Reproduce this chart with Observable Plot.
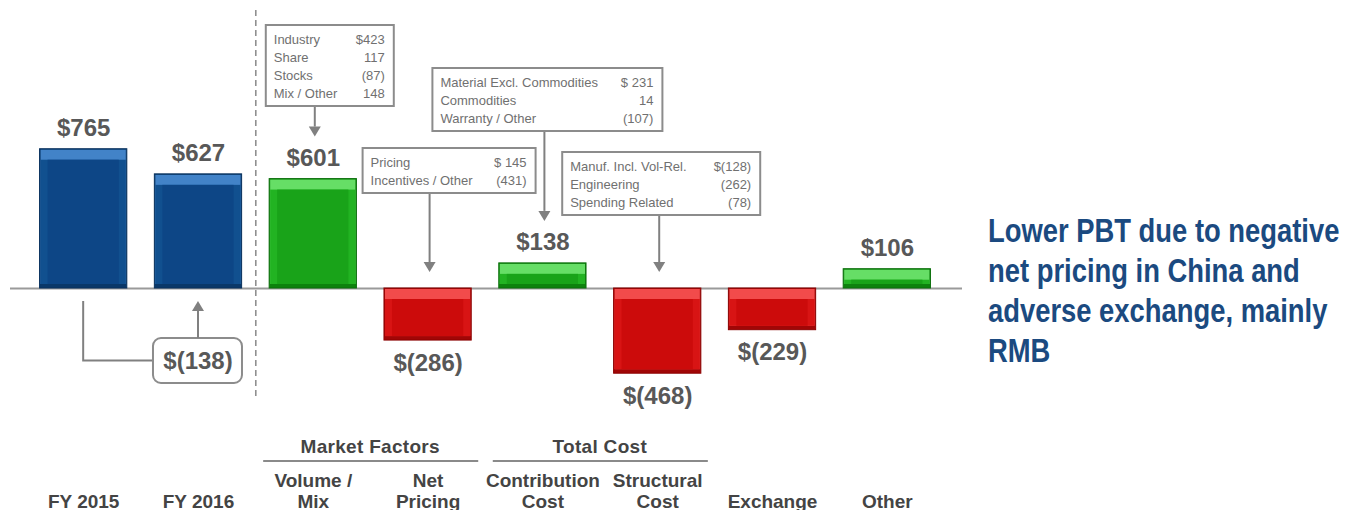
<!DOCTYPE html>
<html><head><meta charset="utf-8">
<script src="https://cdn.jsdelivr.net/npm/d3@7"></script>
<script src="https://cdn.jsdelivr.net/npm/@observablehq/plot@0.6"></script>
<style>
html,body{margin:0;padding:0;background:#fff;}
#chart{width:1346px;height:510px;overflow:hidden;position:relative;}
</style></head><body><div id="chart"></div>
<script>
// ---- data ----
const categories = ["FY 2015","FY 2016","Volume / Mix","Net Pricing","Contribution Cost","Structural Cost","Exchange","Other"];
const axisLabels = ["FY 2015","FY 2016","Volume /\nMix","Net\nPricing","Contribution\nCost","Structural\nCost","Exchange","Other"];
const values = [765, 627, 601, -286, 138, -468, -229, 106];
const valueLabels = ["$765","$627","$601","$(286)","$138","$(468)","$(229)","$106"];
const barKinds = ["total","total","change","change","change","change","change","change"];

const groupNames = ["Market Factors","Total Cost"];
const groupFirst = ["Volume / Mix","Contribution Cost"];
const groupLast = ["Net Pricing","Structural Cost"];

const calloutAnchors = ["Volume / Mix","Net Pricing","Contribution Cost","Structural Cost"];
const calloutLabels = [
  ["Industry","Share","Stocks","Mix / Other"],
  ["Pricing","Incentives / Other"],
  ["Material Excl. Commodities","Commodities","Warranty / Other"],
  ["Manuf. Incl. Vol-Rel.","Engineering","Spending Related"]
];
const calloutValues = [
  ["$423","117","(87)","148"],
  ["$ 145","(431)"],
  ["$ 231","14","(107)"],
  ["$(128)","(262)","(78)"]
];
const changeFrom = "FY 2015", changeTo = "FY 2016", changeLabel = "$(138)";
const noteLines = ["Lower PBT due to negative","net pricing in China and","adverse exchange, mainly","RMB"];

// ---- build ----
const data = categories.map((c, i) => ({cat: c, value: values[i], label: valueLabels[i], axis: axisLabels[i], kind: barKinds[i]}));

const palette = {
  blue:  {border:"#08315e", bottom:"#0a3869", top:"#4283c8", side:"#11508f", face:"#0d4686"},
  green: {border:"#0b6f0b", bottom:"#0d820d", top:"#66de66", side:"#22b322", face:"#19a319"},
  red:   {border:"#8c0202", bottom:"#a10606", top:"#f24b4b", side:"#d81414", face:"#cc0b0b"}
};
const pal = d => d.kind === "total" ? palette.blue : (d.value >= 0 ? palette.green : palette.red);

const sans = "'Liberation Sans', Arial, sans-serif";

const chart = Plot.plot({
  width: 1346, height: 510,
  marginLeft: 12, marginRight: 388, marginTop: 0, marginBottom: 80,
  x: {type: "band", domain: categories, padding: 0.24, round: false, axis: null},
  y: {domain: [-780, 1582], axis: null},
  color: {type: "identity"},
  style: {background: "#fff", fontFamily: sans},
  marks: [
    Plot.ruleX(["Volume / Mix"], {dx: -57.5, stroke: "#8f8f8f", strokeWidth: 1.6, strokeDasharray: "6,4", insetTop: 10, insetBottom: 30}),
    Plot.ruleY([0], {stroke: "#9a9a9a", strokeWidth: 2, insetLeft: -2, insetRight: -4}),
    Plot.barY(data, {x: "cat", y1: 0, y2: "value", fill: d => pal(d).bottom, stroke: d => pal(d).border, strokeWidth: 1}),
    Plot.barY(data, {x: "cat", y1: 0, y2: "value", fill: d => pal(d).top, insetTop: 1, insetLeft: 1, insetRight: 1, insetBottom: 4}),
    Plot.barY(data, {x: "cat", y1: 0, y2: "value", fill: d => pal(d).side, insetTop: 11, insetLeft: 1, insetRight: 1, insetBottom: 4}),
    Plot.barY(data, {x: "cat", y1: 0, y2: "value", fill: d => pal(d).face, insetTop: 11, insetLeft: 8, insetRight: 8, insetBottom: 4}),
    Plot.text(data.filter(d => d.value >= 0), {x: "cat", y: "value", text: "label", lineAnchor: "bottom", dy: -13, fontSize: 24, fontWeight: "bold", fill: "#585858"}),
    Plot.text(data.filter(d => d.value < 0), {x: "cat", y: "value", text: "label", lineAnchor: "bottom", dy: 30, fontSize: 24, fontWeight: "bold", fill: "#585858"}),
    Plot.text(data, {x: "cat", text: "axis", frameAnchor: "bottom", lineAnchor: "bottom", dy: 77, lineHeight: 1.08, fontSize: 19, fontWeight: "bold", fill: "#444", style: "letter-spacing:0.3px"})
  ]
});
document.getElementById("chart").appendChild(chart);

// ---- annotations positioned with Plot's scales ----
const svg = d3.select(chart);
const xs = chart.scale("x"), ys = chart.scale("y");
const bw = xs.bandwidth;
const xc = c => xs.apply(c) + bw / 2;
const yv = v => ys.apply(v);
const gray = "#808080";

function arrow(g, x, y0, y1) { // from y0 to tip y1
  const dir = y1 > y0 ? 1 : -1, head = 10;
  g.append("line").attr("x1", x).attr("x2", x).attr("y1", y0).attr("y2", y1 - dir * head)
    .attr("stroke", gray).attr("stroke-width", 2);
  g.append("path").attr("d", `M${x - 6},${y1 - dir * head}L${x + 6},${y1 - dir * head}L${x},${y1}Z`).attr("fill", gray);
}

const ann = svg.append("g").attr("text-anchor", "start");
// group labels
groupNames.forEach((name, i) => {
  const a = xc(groupFirst[i]), b = xc(groupLast[i]);
  ann.append("text").attr("x", (a + b) / 2).attr("y", 453).attr("text-anchor", "middle")
    .attr("font-family", sans).attr("font-size", 19).attr("font-weight", "bold").attr("fill", "#444")
    .style("letter-spacing", "0.3px").text(name);
  ann.append("line").attr("x1", a - bw / 2 - 6).attr("x2", b + bw / 2 + 7).attr("y1", 461).attr("y2", 461)
    .attr("stroke", "#8a8a8a").attr("stroke-width", 2);
});

// callouts
const calloutLayout = [{left: -47, right: 81, top: 25}, {left: -65, right: 108, top: 148}, {left: -110, right: 120, top: 68}, {left: -95, right: 103, top: 152}];
calloutAnchors.forEach((cat, i) => {
  const L = calloutLayout[i], cx = xc(cat);
  const n = calloutLabels[i].length;
  const h = 19 + (n - 1) * 18 + 8;
  const g = ann.append("g");
  g.append("rect").attr("x", cx + L.left).attr("y", L.top).attr("width", L.right - L.left).attr("height", h)
    .attr("fill", "#fff").attr("stroke", "#8c8c8c").attr("stroke-width", 2);
  calloutLabels[i].forEach((t, j) => {
    g.append("text").attr("x", cx + L.left + 8).attr("y", L.top + 19 + j * 18).attr("text-anchor", "start")
      .attr("font-family", sans).attr("font-size", 13).attr("fill", "#707070").text(t);
    g.append("text").attr("x", cx + L.right - 9).attr("y", L.top + 19 + j * 18).attr("text-anchor", "end")
      .attr("font-family", sans).attr("font-size", 13).attr("fill", "#707070").text(calloutValues[i][j]);
  });
  const v = values[categories.indexOf(cat)];
  const tip = v > 0 ? yv(v) - 42 : yv(0) - 16;
  arrow(g, cx + 2, L.top + h + 1, tip);
});

// change box FY2015 -> FY2016
{
  const x0 = xc(changeFrom), x1 = xc(changeTo), base = yv(0);
  const bx = x1 - 45, by = base + 50, bwid = 89, bh = 45;
  ann.append("path").attr("d", `M${x0},${base + 13}V${by + bh / 2}H${bx}`).attr("fill", "none").attr("stroke", gray).attr("stroke-width", 2);
  ann.append("rect").attr("x", bx).attr("y", by).attr("width", bwid).attr("height", bh).attr("rx", 8)
    .attr("fill", "#fff").attr("stroke", "#8c8c8c").attr("stroke-width", 2);
  ann.append("text").attr("x", x1).attr("y", by + bh / 2 + 8).attr("text-anchor", "middle")
    .attr("font-family", sans).attr("font-size", 24).attr("font-weight", "bold").attr("fill", "#585858").text(changeLabel);
  arrow(ann, x1, by, base + 13);
}

// right-hand note (bold, horizontally condensed)
{
  const xr = xs.range[1] + 30;
  const t = ann.append("g").attr("transform", `translate(${xr},0) scale(0.83,1)`)
    .append("text").attr("text-anchor", "start").attr("font-family", sans).attr("font-size", 33)
    .attr("font-weight", "bold").attr("fill", "#1b4a80");
  noteLines.forEach((line, j) => t.append("tspan").attr("x", 0).attr("y", 242 + j * 40).text(line));
}
</script>
</body></html>
